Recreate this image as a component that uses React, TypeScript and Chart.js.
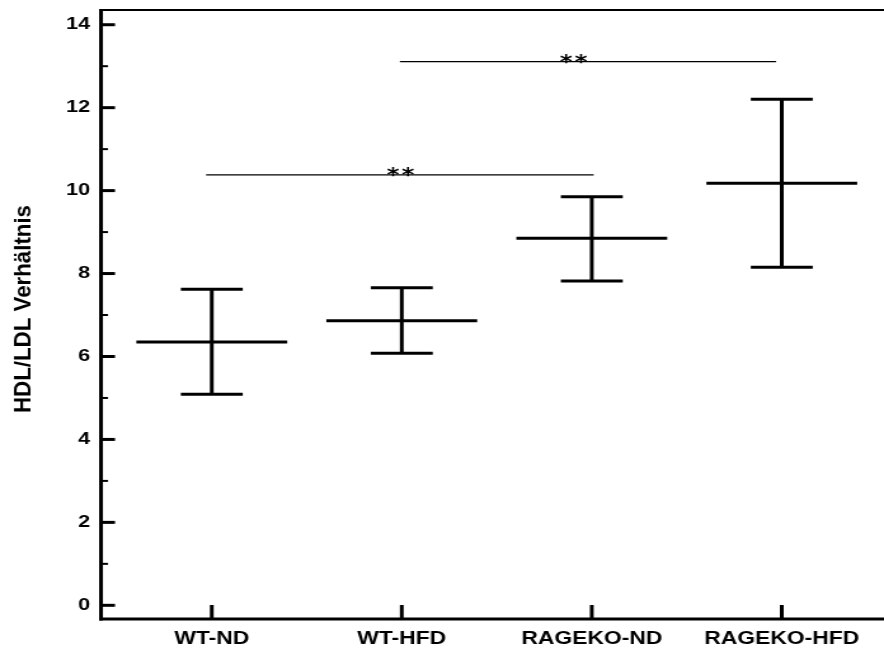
import React, { useEffect, useRef } from 'react';
import { Chart, registerables } from 'chart.js';

Chart.register(...registerables);

// ---- data ----
const categories = ['WT-ND', 'WT-HFD', 'RAGEKO-ND', 'RAGEKO-HFD'];
const means = [6.35, 6.86, 8.85, 10.18];
const upperValues = [7.62, 7.66, 9.85, 12.2];
const lowerValues = [5.09, 6.08, 7.82, 8.15];
const yTickValues = [0, 2, 4, 6, 8, 10, 12, 14];
const yMinorTickValues = [1, 3, 5, 7, 9, 11, 13];
const sigStart = [-0.03, 0.99];
const sigEnd = [2.01, 2.97];
const sigLevel = [10.38, 13.11];
const sigLabel = ['**', '**'];
const sigLabelPos = [0.993, 1.904];
const yTitle = 'HDL/LDL Verhältnis';

// ---- styles ----
const MEAN_HALF = 0.397; // in category units
const CAP_HALF = 0.163;
const STRETCH = 884 / 696;

const drawPlugin = {
  id: 'errorbarsAndFrame',
  afterDraw(chart: any) {
    const ctx: CanvasRenderingContext2D = chart.ctx;
    const xs = chart.scales.x;
    const ys = chart.scales.y;
    const a = chart.chartArea;
    const line = (x1: number, y1: number, x2: number, y2: number) => {
      ctx.beginPath();
      ctx.moveTo(x1, y1);
      ctx.lineTo(x2, y2);
      ctx.stroke();
    };
    ctx.save();
    ctx.strokeStyle = '#000';
    ctx.fillStyle = '#000';
    ctx.lineCap = 'butt';

    // frame
    ctx.lineWidth = 3;
    line(a.left, a.top - 1, a.left, a.bottom + 1.5);
    line(a.left - 1.5, a.bottom, a.right, a.bottom);
    ctx.lineWidth = 2;
    line(a.left - 1.5, a.top, a.right, a.top);

    // y ticks (inward)
    ctx.lineWidth = 3;
    yTickValues.forEach((v) => {
      const y = ys.getPixelForValue(v);
      line(a.left, y, a.left + 14 / STRETCH, y);
    });
    ctx.lineWidth = 2;
    yMinorTickValues.forEach((v) => {
      const y = ys.getPixelForValue(v);
      line(a.left, y, a.left + 7 / STRETCH, y);
    });
    // x ticks (inward)
    ctx.lineWidth = 3;
    categories.forEach((_, i) => {
      const x = xs.getPixelForValue(i);
      line(x, a.bottom, x, a.bottom - 14);
    });

    // error bars
    ctx.lineWidth = 3;
    categories.forEach((_, i) => {
      const cx = xs.getPixelForValue(i);
      const m = ys.getPixelForValue(means[i]);
      const u = ys.getPixelForValue(upperValues[i]);
      const l = ys.getPixelForValue(lowerValues[i]);
      const ml = xs.getPixelForValue(i - MEAN_HALF);
      const mr = xs.getPixelForValue(i + MEAN_HALF);
      const cl = xs.getPixelForValue(i - CAP_HALF);
      const cr = xs.getPixelForValue(i + CAP_HALF);
      line(cx, u, cx, l);
      line(ml, m, mr, m);
      line(cl, u, cr, u);
      line(cl, l, cr, l);
    });

    // significance brackets
    ctx.lineWidth = 1.3;
    sigLevel.forEach((lv, k) => {
      const y = ys.getPixelForValue(lv);
      line(xs.getPixelForValue(sigStart[k]), y, xs.getPixelForValue(sigEnd[k]), y);
      const cx = xs.getPixelForValue(sigLabelPos[k]);
      ctx.font = 'bold 19px "DejaVu Sans"';
      ctx.textAlign = 'center';
      ctx.textBaseline = 'alphabetic';
      const chars = sigLabel[k].split('');
      const gap = 15 / STRETCH;
      chars.forEach((c, j) => {
        const off = (j - (chars.length - 1) / 2) * gap;
        ctx.fillText(c, cx + off, y + 6);
      });
    });

    // y-axis title
    ctx.save();
    ctx.translate(24 / STRETCH, 309);
    ctx.rotate(-Math.PI / 2);
    ctx.font = 'bold 17.5px "Liberation Sans"';
    const w = ctx.measureText(yTitle).width;
    ctx.scale(208 / w, 1);
    ctx.textAlign = 'center';
    ctx.textBaseline = 'middle';
    ctx.fillText(yTitle, 0, 0);
    ctx.restore();

    ctx.restore();
  },
};

export default function App() {
  const ref = useRef<HTMLCanvasElement>(null);
  useEffect(() => {
    const chart = new Chart(ref.current as HTMLCanvasElement, {
      type: 'scatter',
      data: {
        datasets: [
          {
            label: 'Mittelwert',
            data: means.map((m, i) => ({ x: i, y: m })),
            pointRadius: 0,
            showLine: false,
          },
        ],
      },
      options: {
        animation: false,
        responsive: false,
        events: [],
        layout: { padding: { top: 10, left: 0, right: 0, bottom: 0 } },
        plugins: { legend: { display: false }, tooltip: { enabled: false } },
        scales: {
          x: {
            type: 'linear',
            position: 'bottom',
            min: -0.583,
            max: 3.538,
            afterBuildTicks: (s: any) => {
              s.ticks = categories.map((_, i) => ({ value: i }));
            },
            afterFit: (s: any) => {
              s.height = 36;
              s.paddingLeft = 0;
              s.paddingRight = 0;
              s.paddingTop = 0;
              s.paddingBottom = 0;
            },
            grid: { display: false, drawTicks: false },
            border: { display: false },
            ticks: {
              callback: (v: any) => categories[Number(v)],
              color: '#000',
              font: { family: '"Liberation Sans", Arial, sans-serif', size: 18, weight: 'bold' },
              padding: 9.5,
              maxRotation: 0,
              minRotation: 0,
              autoSkip: false,
            },
          },
          y: {
            type: 'linear',
            position: 'left',
            min: -0.33,
            max: 14.355,
            afterBuildTicks: (s: any) => {
              s.ticks = yTickValues.map((v) => ({ value: v }));
            },
            afterFit: (s: any) => {
              s.width = 101 / STRETCH;
              s.paddingLeft = 0;
              s.paddingRight = 0;
              s.paddingTop = 0;
              s.paddingBottom = 0;
            },
            grid: { display: false, drawTicks: false },
            border: { display: false },
            ticks: {
              callback: (v: any) => String(v),
              color: '#000',
              font: { family: '"Liberation Sans", Arial, sans-serif', size: 17, weight: 'bold' },
              padding: 8.5,
            },
          },
        },
      },
      plugins: [drawPlugin],
    });
    return () => chart.destroy();
  }, []);
  return (
    <div style={{ position: 'absolute', left: 0, top: 0, width: 884, height: 655, background: '#fff' }}>
      <canvas
        ref={ref}
        width={696}
        height={655}
        style={{ width: '884px', height: '655px', display: 'block' }}
      />
    </div>
  );
}
